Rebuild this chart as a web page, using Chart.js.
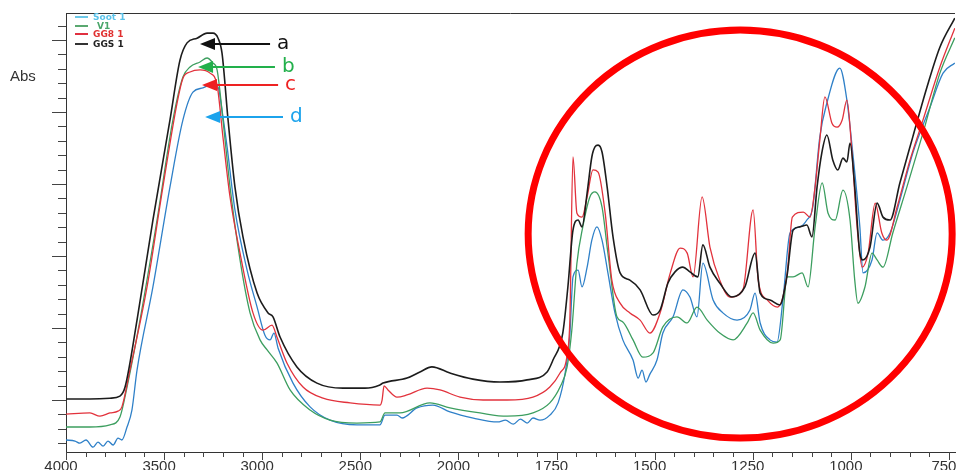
<!DOCTYPE html>
<html><head><meta charset="utf-8">
<script src="https://cdn.jsdelivr.net/npm/chart.js@4/dist/chart.umd.min.js"></script>
<style>html,body{margin:0;padding:0;background:#fff;}#wrap{width:957px;height:470px;}</style>
</head><body><div id="wrap"><canvas id="c" width="957" height="470"></canvas></div>
<script>
// ---- tick labels (wavenumber, cm-1); the axis is expanded 2x below 2000 ----
const tickWavenumbers = [4000, 3500, 3000, 2500, 2000, 1750, 1500, 1250, 1000, 750];
const seriesNames = ['Soot 1', 'V1', 'GG8 1', 'GGS 1'];
const curveLabels = ['d', 'b', 'c', 'a'];

// ---- GGS 1 (a, black) ----
const ggsWave = [4000,3878,3776,3725,3699,3638,3557,3470,3419,3383,3332,3281,3251,3225,3205,3174,3139,3098,3026,2970,2945,2909,2823,2721,2588,2476,2400,2384,2262,2196,2135,2043,1963,1894,1825,1774,1759,1734,1721,1708,1695,1685,1672,1660,1652,1644,1634,1621,1606,1588,1563,1537,1504,1486,1466,1448,1428,1410,1390,1377,1359,1334,1303,1270,1244,1231,1206,1181,1163,1147,1130,1112,1099,1086,1074,1061,1046,1033,1020,1010,1002,990,977,969,951,933,918,900,875,842,806,773,735];
const ggsAbs = [0.203,0.203,0.205,0.211,0.236,0.422,0.700,0.978,1.144,1.192,1.205,1.219,1.219,1.205,1.164,0.978,0.792,0.653,0.497,0.442,0.431,0.375,0.292,0.247,0.233,0.233,0.242,0.247,0.261,0.278,0.292,0.275,0.258,0.250,0.256,0.278,0.311,0.386,0.514,0.672,0.700,0.681,0.775,0.875,0.903,0.908,0.889,0.792,0.653,0.553,0.533,0.506,0.436,0.450,0.525,0.556,0.569,0.556,0.542,0.631,0.569,0.525,0.486,0.514,0.608,0.497,0.478,0.464,0.542,0.672,0.681,0.686,0.653,0.792,0.886,0.936,0.867,0.839,0.872,0.861,0.914,0.792,0.608,0.589,0.625,0.747,0.708,0.700,0.803,0.931,1.069,1.180,1.261];

// ---- GG8 1 (c, red) ----
const gg8Wave = [4000,3878,3827,3776,3735,3715,3674,3587,3506,3434,3404,3368,3317,3266,3230,3200,3164,3113,3047,2996,2950,2925,2874,2792,2690,2552,2400,2389,2379,2359,2313,2262,2160,2094,1996,1937,1876,1810,1767,1741,1723,1716,1708,1698,1685,1672,1657,1644,1626,1609,1588,1563,1537,1512,1486,1460,1435,1417,1402,1379,1359,1334,1308,1275,1249,1236,1213,1187,1162,1149,1121,1104,1091,1079,1066,1048,1035,1022,1010,997,984,971,956,938,921,908,882,849,816,773,735];
const gg8Abs = [0.161,0.164,0.155,0.164,0.169,0.181,0.283,0.514,0.792,1.025,1.094,1.111,1.117,1.108,1.075,0.930,0.764,0.608,0.442,0.394,0.408,0.375,0.303,0.236,0.205,0.192,0.186,0.200,0.239,0.228,0.208,0.214,0.233,0.228,0.208,0.200,0.200,0.208,0.236,0.275,0.325,0.422,0.875,0.719,0.708,0.764,0.839,0.833,0.719,0.533,0.469,0.442,0.422,0.386,0.442,0.553,0.622,0.608,0.542,0.764,0.625,0.533,0.486,0.506,0.728,0.533,0.478,0.458,0.553,0.708,0.722,0.708,0.792,0.922,1.042,0.969,0.958,0.978,1.033,0.886,0.681,0.569,0.608,0.747,0.664,0.644,0.736,0.867,0.978,1.125,1.233];

// ---- V1 (b, green) ----
const v1Wave = [4000,3878,3776,3725,3689,3623,3536,3455,3404,3368,3317,3281,3251,3230,3200,3164,3113,3062,3011,2975,2925,2858,2756,2654,2517,2400,2374,2298,2145,2043,1945,1876,1810,1767,1741,1723,1711,1698,1683,1665,1652,1634,1619,1596,1581,1555,1530,1504,1479,1443,1417,1392,1366,1334,1300,1264,1249,1231,1198,1180,1162,1147,1124,1109,1091,1073,1058,1040,1020,1002,990,982,964,946,933,918,893,857,816,773,735];
const v1Abs = [0.125,0.125,0.131,0.153,0.236,0.422,0.700,0.978,1.097,1.125,1.139,1.150,1.136,1.117,0.978,0.792,0.589,0.442,0.367,0.339,0.303,0.228,0.172,0.144,0.136,0.139,0.164,0.164,0.192,0.178,0.164,0.155,0.164,0.192,0.236,0.292,0.394,0.580,0.681,0.764,0.778,0.736,0.608,0.431,0.417,0.367,0.319,0.331,0.403,0.431,0.414,0.458,0.422,0.386,0.367,0.414,0.442,0.394,0.358,0.367,0.542,0.542,0.553,0.514,0.681,0.803,0.719,0.700,0.783,0.700,0.533,0.469,0.514,0.608,0.589,0.569,0.664,0.792,0.942,1.108,1.206];

// ---- Soot 1 (d, blue) ----
const sootWave = [4000,3954,3929,3898,3862,3837,3811,3786,3760,3735,3715,3689,3664,3638,3557,3470,3404,3353,3302,3266,3225,3205,3179,3139,3077,3026,2986,2960,2940,2919,2843,2756,2654,2517,2400,2374,2313,2287,2211,2130,2043,1962,1900,1880,1860,1842,1825,1810,1792,1767,1746,1728,1716,1708,1695,1685,1672,1660,1647,1634,1619,1601,1581,1555,1542,1532,1522,1512,1494,1479,1453,1428,1410,1392,1377,1351,1326,1290,1257,1244,1231,1206,1188,1173,1155,1130,1112,1097,1079,1061,1028,1010,995,977,969,946,933,918,900,875,842,798,765,735];
const sootAbs = [0.089,0.086,0.080,0.089,0.069,0.083,0.072,0.086,0.075,0.094,0.089,0.125,0.172,0.283,0.514,0.792,0.978,1.055,1.067,1.075,1.069,1.005,0.903,0.728,0.561,0.458,0.380,0.367,0.386,0.344,0.247,0.181,0.144,0.131,0.131,0.158,0.158,0.150,0.178,0.186,0.167,0.150,0.139,0.144,0.133,0.147,0.136,0.150,0.144,0.158,0.192,0.275,0.381,0.542,0.561,0.514,0.569,0.644,0.681,0.644,0.553,0.442,0.367,0.311,0.261,0.283,0.250,0.272,0.311,0.386,0.431,0.506,0.486,0.431,0.580,0.478,0.442,0.422,0.450,0.497,0.414,0.367,0.361,0.478,0.664,0.681,0.700,0.736,0.931,1.025,1.122,1.033,0.886,0.681,0.553,0.589,0.664,0.644,0.664,0.755,0.886,1.014,1.108,1.136];

// ---- annotation arrows (data units) ----
const arrowTipWave  = [3291, 3327, 3307, 3317];
const arrowTailWave = [2894, 2935, 2919, 2960];
const arrowAbs      = [0.986, 1.125, 1.075, 1.189];
const arrowColors   = ['#1ca3ec', '#22b04b', '#ee2222', '#111111'];
// highlighted region (ellipse centre, data units)
const ellipseCentreWave = 1282;
const ellipseCentreAbs = 0.661;

const lineColors = ['#2f80c8', '#3c9e5f', '#e2323c', '#1c1c1c'];
const legendLineColors = ['#6cc8e8', '#5aa870', '#e03040', '#333333'];
const legendTextColors = ['#5bc3ea', '#4aa66a', '#e03030', '#222222'];

// piecewise wavenumber axis: 500 cm-1 per step above 2000, 250 below
function toU(w) { return w >= 2000 ? (4000 - w) / 500 : 4 + (2000 - w) / 250; }
function pts(wave, abs) { return wave.map((w, i) => ({ x: toU(w), y: abs[i] })); }

const waves = [sootWave, v1Wave, gg8Wave, ggsWave];
const absArr = [sootAbs, v1Abs, gg8Abs, ggsAbs];

const datasets = seriesNames.map((n, i) => ({
  label: n,
  data: pts(waves[i], absArr[i]),
  borderColor: lineColors[i],
  borderWidth: i === 3 ? 1.6 : 1.3,
  pointRadius: 0,
  fill: false,
  cubicInterpolationMode: 'monotone',
  order: 3 - i
}));

const decor = {
  id: 'decor',
  beforeDraw(chart) {
    const ctx = chart.ctx;
    ctx.save(); ctx.fillStyle = '#fff'; ctx.fillRect(0, 0, chart.width, chart.height); ctx.restore();
  },
  afterDraw(chart) {
    const ctx = chart.ctx, xs = chart.scales.x, ys = chart.scales.y, a = chart.chartArea;
    ctx.save();
    // frame top
    ctx.strokeStyle = '#333'; ctx.lineWidth = 1;
    ctx.beginPath(); ctx.moveTo(a.left, a.top + 0.5); ctx.lineTo(a.right, a.top + 0.5); ctx.stroke();
    // y ticks
    ctx.strokeStyle = '#444';
    for (let k = 2; k <= 31; k++) {
      const v = k * 0.04; const py = Math.round(ys.getPixelForValue(v)) + 0.5;
      if (py < a.top || py > a.bottom) continue;
      const len = (k % 5 === 0) ? 14 : 8;
      ctx.beginPath(); ctx.moveTo(a.left - len, py); ctx.lineTo(a.left, py); ctx.stroke();
    }
    // x ticks
    for (let k = 0; k <= 45; k++) {
      const u = k * 0.2; const px = Math.round(xs.getPixelForValue(u)) + 0.5;
      if (px > a.right) continue;
      const len = (k % 5 === 0) ? 8 : 5;
      ctx.beginPath(); ctx.moveTo(px, a.bottom); ctx.lineTo(px, a.bottom + len); ctx.stroke();
    }
    // Abs label
    ctx.fillStyle = '#333'; ctx.font = '15px "Liberation Sans", Arial, sans-serif';
    ctx.textBaseline = 'middle'; ctx.textAlign = 'left';
    ctx.fillText('Abs', 10, 77);
    // legend
    const ly = [17, 26, 34, 44];
    ctx.font = 'bold 9px "DejaVu Sans", sans-serif';
    for (let i = 0; i < 4; i++) {
      ctx.strokeStyle = legendLineColors[i]; ctx.lineWidth = 2;
      ctx.beginPath(); ctx.moveTo(75, ly[i]); ctx.lineTo(88, ly[i]); ctx.stroke();
      ctx.fillStyle = legendTextColors[i];
      ctx.fillText(seriesNames[i], i === 1 ? 97 : 93, ly[i] + 0.5);
    }
    // red ellipse
    const cx = xs.getPixelForValue(toU(ellipseCentreWave)), cy = ys.getPixelForValue(ellipseCentreAbs);
    ctx.strokeStyle = '#ff0000'; ctx.lineWidth = 7;
    ctx.beginPath(); ctx.ellipse(cx, cy, 212, 204, 0, 0, Math.PI * 2); ctx.stroke();
    // arrows
    ctx.font = '20px "DejaVu Sans", sans-serif'; ctx.textBaseline = 'alphabetic';
    for (let i = 0; i < 4; i++) {
      const tx = xs.getPixelForValue(toU(arrowTipWave[i]));
      const ex = xs.getPixelForValue(toU(arrowTailWave[i]));
      const py = ys.getPixelForValue(arrowAbs[i]);
      ctx.strokeStyle = arrowColors[i]; ctx.fillStyle = arrowColors[i]; ctx.lineWidth = 2;
      ctx.beginPath(); ctx.moveTo(tx + 12, py); ctx.lineTo(ex, py); ctx.stroke();
      ctx.beginPath(); ctx.moveTo(tx, py); ctx.lineTo(tx + 15, py - 6); ctx.lineTo(tx + 15, py + 6); ctx.closePath(); ctx.fill();
      ctx.fillText(curveLabels[i], ex + 7, py + 5);
    }
    ctx.restore();
  }
};

new Chart(document.getElementById('c'), {
  type: 'line',
  data: { datasets },
  options: {
    responsive: false,
    animation: false,
    devicePixelRatio: 1,
    layout: { padding: { left: 0, right: 2, top: 13, bottom: 0 } },
    plugins: { legend: { display: false }, tooltip: { enabled: false } },
    scales: {
      x: {
        type: 'linear', min: 0, max: 9.062,
        grid: { display: false, drawTicks: false, tickLength: 0 },
        border: { display: true, color: '#333', width: 1 },
        afterBuildTicks(s) { s.ticks = tickWavenumbers.map((w) => ({ value: toU(w) })); },
        afterFit(s) { s.height = 18; s.paddingLeft = 0; s.paddingRight = 0; },
        ticks: {
          autoSkip: false, maxRotation: 0, padding: 6, labelOffset: -5,
          color: '#333', font: { family: '"Liberation Sans", Arial, sans-serif', size: 15 },
          callback(v, i) { return String(tickWavenumbers[i]); }
        }
      },
      y: {
        type: 'linear', min: 0.0556, max: 1.2750,
        grid: { display: false },
        border: { display: true, color: '#333', width: 1 },
        ticks: { display: false },
        afterFit(s) { s.width = 66; s.paddingTop = 0; s.paddingBottom = 0; }
      }
    }
  },
  plugins: [decor]
});
</script>
</body></html>
